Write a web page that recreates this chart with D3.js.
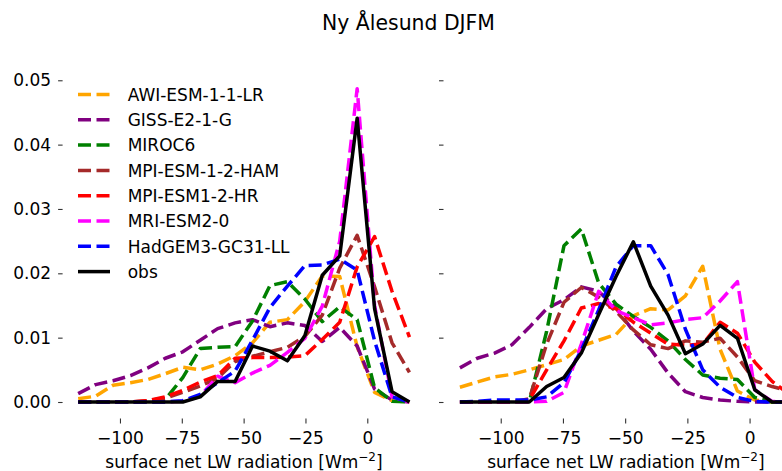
<!DOCTYPE html>
<html>
<head>
<meta charset="utf-8">
<script src="https://cdn.jsdelivr.net/npm/d3@7"></script>
<style>
  body { margin: 0; background: #fff; }
  svg { display: block; }
  text { font-family: "DejaVu Sans", sans-serif; fill: #000; }
</style>
</head>
<body>
<svg id="chart" width="782" height="471"></svg>
<script>
// Histogram bin centres (W m-2) for the two panels
const binsLeft  = [-116.9, -109.85, -102.8, -95.75, -88.7, -81.65, -74.6, -67.55, -60.5, -53.45,
                   -46.4, -39.35, -32.3, -25.25, -18.2, -11.15, -4.1, 2.95, 10.0, 17.05];
const binsRight = [-116.4, -109.43, -102.46, -95.49, -88.52, -81.55, -74.58, -67.61, -60.64, -53.67,
                   -46.7, -39.73, -32.76, -25.79, -18.82, -11.85, -4.88, 2.09, 9.06, 16.03];

const modelNames = ["AWI-ESM-1-1-LR", "GISS-E2-1-G", "MIROC6", "MPI-ESM-1-2-HAM",
                    "MPI-ESM1-2-HR", "MRI-ESM2-0", "HadGEM3-GC31-LL", "obs"];

// Left panel densities
const awiLeft    = [0.0005, 0.0009, 0.0026, 0.003, 0.0035, 0.0044, 0.0054, 0.005, 0.0059, 0.0072,
                    0.0092, 0.0124, 0.0128, 0.0156, 0.0196, 0.0195, 0.0086, 0.0015, 0.0002, 0];
const gissLeft   = [0.0013, 0.0027, 0.0033, 0.0041, 0.0053, 0.0068, 0.0078, 0.0096, 0.0114, 0.0123,
                    0.0128, 0.0117, 0.0123, 0.0119, 0.0094, 0.0116, 0.0087, 0.002, 0.0003, 0];
const mirocLeft  = [0, 0, 0, 0, 0, 0.0004, 0.0038, 0.0083, 0.0085, 0.0086,
                    0.0126, 0.0181, 0.0187, 0.016, 0.0125, 0.0148, 0.0128, 0.0022, 0.0001, 0];
const hamLeft    = [0, 0, 0, 0, 0.0002, 0.0006, 0.0015, 0.0025, 0.0037, 0.0063,
                    0.0071, 0.0078, 0.0085, 0.0102, 0.0135, 0.0208, 0.0259, 0.0179, 0.0092, 0.0046];
const hrLeft     = [0, 0, 0, 0, 0.0002, 0.0008, 0.0018, 0.0031, 0.0041, 0.0068,
                    0.0069, 0.0069, 0.007, 0.0072, 0.0097, 0.0124, 0.021, 0.0257, 0.0172, 0.0101];
const mriLeft    = [0, 0, 0, 0, 0, 0, 0.0001, 0.0009, 0.004, 0.003,
                    0.0045, 0.0057, 0.0077, 0.0099, 0.0149, 0.025, 0.0487, 0.015, 0.0008, 0];
const hadLeft    = [0, 0, 0, 0, 0, 0, 0.0002, 0.0012, 0.003, 0.0048,
                    0.0096, 0.0147, 0.018, 0.0212, 0.0213, 0.0222, 0.0205, 0.0095, 0.0008, 0];
const obsLeft    = [0, 0, 0, 0, 0, 0, 0, 0.0008, 0.0032, 0.0032,
                    0.0087, 0.0079, 0.0064, 0.0103, 0.0197, 0.0227, 0.0441, 0.0145, 0.0016, 0];

// Right panel densities
const awiRight   = [0.0023, 0.0031, 0.0039, 0.0043, 0.005, 0.0058, 0.0066, 0.0087, 0.0096, 0.0105,
                    0.0134, 0.0145, 0.0143, 0.0165, 0.0211, 0.0082, 0.0017, 0.0003, 0, 0];
const gissRight  = [0.0053, 0.0068, 0.0076, 0.0089, 0.0116, 0.0145, 0.0159, 0.0179, 0.0172, 0.0146,
                    0.011, 0.0082, 0.0045, 0.0016, 0.0007, 0.0003, 0.0001, 0, 0, 0];
const mirocRight = [0, 0, 0, 0, 0, 0.011, 0.0243, 0.0269, 0.0185, 0.0152,
                    0.0133, 0.0116, 0.0095, 0.0066, 0.0042, 0.0037, 0.0035, 0.0007, 0, 0];
const hamRight   = [0, 0, 0, 0, 0.0005, 0.009, 0.0155, 0.0178, 0.0163, 0.0141,
                    0.0112, 0.0089, 0.0083, 0.0095, 0.0093, 0.0099, 0.007, 0.0033, 0.0024, 0.0017];
const hrRight    = [0, 0, 0, 0, 0.0003, 0.005, 0.0095, 0.0146, 0.0153, 0.0145,
                    0.0124, 0.0107, 0.009, 0.0088, 0.009, 0.0124, 0.0107, 0.0062, 0.0032, 0.0012];
const mriRight   = [0, 0, 0, 0, 0, 0.0001, 0.0015, 0.009, 0.0172, 0.0142,
                    0.0131, 0.012, 0.0123, 0.0128, 0.0131, 0.0157, 0.0187, 0.0019, 0.0001, 0];
const hadRight   = [0, 0.0001, 0.0003, 0.0003, 0.0003, 0.0008, 0.003, 0.0081, 0.0143, 0.021,
                    0.0243, 0.0243, 0.0198, 0.0113, 0.005, 0.0023, 0.0007, 0.0001, 0, 0];
const obsRight   = [0, 0, 0, 0, 0, 0.0024, 0.0038, 0.0076, 0.0136, 0.0195,
                    0.0249, 0.018, 0.0135, 0.0075, 0.009, 0.0119, 0.0099, 0.0019, 0, 0];

const yTicks = [0, 0.01, 0.02, 0.03, 0.04, 0.05];
const xTicks = [-100, -75, -50, -25, 0];

const lineColors = ["orange", "purple", "green", "brown", "red", "magenta", "blue", "black"];

const leftSets  = [awiLeft, gissLeft, mirocLeft, hamLeft, hrLeft, mriLeft, hadLeft, obsLeft];
const rightSets = [awiRight, gissRight, mirocRight, hamRight, hrRight, mriRight, hadRight, obsRight];

const series = modelNames.map((name, k) => ({
  name, color: lineColors[k], dashed: name !== "obs",
  left: leftSets[k], right: rightSets[k]
}));

const svg = d3.select("#chart");
const FS = 17;
const LW = 3.5;
const DASH = "13,5.5";
const PANEL_W = 364.8;

// shared density axis
const y = d3.scaleLinear().domain([-0.00244, 0.0511]).range([417.7, 73.2]);

const panels = [
  { bins: binsLeft,  key: "left",  x: d3.scaleLinear().domain([-123.6, 23.9]).range([61.6, 61.6 + PANEL_W]), axisX: 62.6, labels: true },
  { bins: binsRight, key: "right", x: d3.scaleLinear().domain([-123.0, 23.6]).range([443.5, 443.5 + PANEL_W]), axisX: 443.5, labels: false }
];

const fmtX = d => d < 0 ? "\u2212" + Math.abs(d) : String(d);

function styleAxis(g) {
  g.select(".domain").remove();
  g.selectAll(".tick line").attr("stroke", "#333").attr("stroke-width", 1.1);
  g.attr("font-size", FS).attr("font-family", "DejaVu Sans, sans-serif");
  g.selectAll(".tick text").attr("fill", "#000");
}

panels.forEach(p => {
  // y axis (tick labels only on the left panel)
  svg.append("g")
    .attr("transform", `translate(${p.axisX},0)`)
    .call(d3.axisLeft(y).tickValues(yTicks)
      .tickFormat(p.labels ? d3.format(".2f") : () => "")
      .tickSize(4.5).tickPadding(7))
    .call(styleAxis);

  // x axis
  svg.append("g")
    .attr("transform", "translate(0,418.5)")
    .call(d3.axisBottom(p.x).tickValues(xTicks).tickFormat(fmtX)
      .tickSize(5).tickPadding(8.6))
    .call(styleAxis);

  // x label with superscript unit
  const lbl = svg.append("text")
    .attr("x", p.x.range()[0] + PANEL_W / 2)
    .attr("y", 468)
    .attr("text-anchor", "middle")
    .attr("font-size", FS);
  lbl.append("tspan").text("surface net LW radiation [Wm");
  lbl.append("tspan").attr("font-size", 12).attr("dy", -7).text("\u22122");
  lbl.append("tspan").attr("dy", 7).text("]");

  // density curves
  const line = d3.line()
    .x((d, i) => p.x(p.bins[i]))
    .y(d => y(d));

  series.forEach(s => {
    svg.append("path")
      .attr("d", line(s[p.key]))
      .attr("fill", "none")
      .attr("stroke", s.color)
      .attr("stroke-width", LW)
      .attr("stroke-linejoin", "round")
      .attr("stroke-dasharray", s.dashed ? DASH : null);
  });
});

// legend
const legend = svg.append("g");
series.forEach((s, k) => {
  const ry = 94.5 + k * 25.3;
  legend.append("line")
    .attr("x1", 78).attr("x2", 110).attr("y1", ry).attr("y2", ry)
    .attr("stroke", s.color).attr("stroke-width", LW)
    .attr("stroke-dasharray", s.dashed ? DASH : null);
  legend.append("text")
    .attr("x", 127.7).attr("y", ry + 6.2)
    .attr("font-size", FS)
    .text(s.name);
});

// title
svg.append("text")
  .attr("x", 408.5).attr("y", 30)
  .attr("text-anchor", "middle")
  .attr("font-size", 20.4)
  .text("Ny \u00C5lesund DJFM");
</script>
</body>
</html>
